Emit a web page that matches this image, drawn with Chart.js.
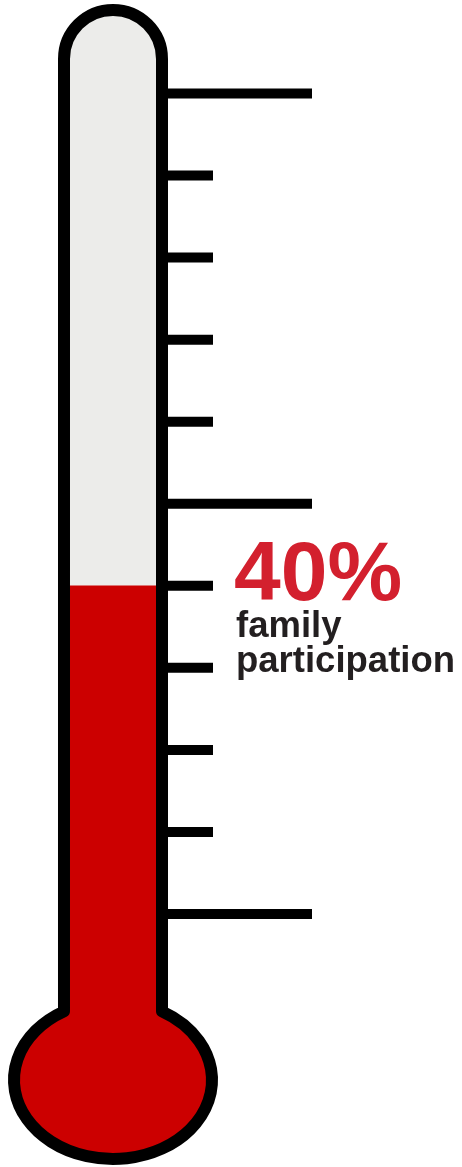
<!DOCTYPE html>
<html>
<head>
<meta charset="utf-8">
<style>
html,body{margin:0;padding:0;background:#fff;}
#wrap{width:462px;height:1167px;position:relative;}
</style>
<script src="https://cdn.jsdelivr.net/npm/chart.js@4.4.1/dist/chart.umd.min.js"></script>
</head>
<body>
<div id="wrap"><canvas id="c" width="462" height="1167"></canvas></div>
<script>
const categories = ["Family participation"];
const participation = [40];
const tickValues = [0, 10, 20, 30, 40, 50, 60, 70, 80, 90, 100];
const majorTicks = [0, 50, 100];
const captionLines = ["family", "participation"];

const RED = "#cc0000";
const TUBE = "#ececea";

function thermoPath(ctx, cx, topY, halfW, bulbCy, rx, ry) {
  const a = Math.acos(halfW / rx);
  ctx.beginPath();
  ctx.moveTo(cx - halfW, topY);
  ctx.ellipse(cx, bulbCy, rx, ry, 0, Math.PI + a, -a, true);
  ctx.lineTo(cx + halfW, topY);
  ctx.arc(cx, topY, halfW, 0, Math.PI, true);
  ctx.closePath();
}

const thermoPlugin = {
  id: "thermo",
  geom(chart) {
    const y = chart.scales.y;
    return {cx: 113, topY: 59, halfW: 49, bulbCy: 1080, rx: 99, ry: 79, y};
  },
  beforeDatasetsDraw(chart) {
    const ctx = chart.ctx;
    const g = this.geom(chart);
    ctx.save();
    thermoPath(ctx, g.cx, g.topY, g.halfW, g.bulbCy, g.rx, g.ry);
    ctx.fillStyle = TUBE;
    ctx.fill();
    ctx.clip();
    const y0 = g.y.getPixelForValue(0);
    ctx.fillStyle = RED;
    ctx.fillRect(0, y0 - 0.5, chart.width, chart.height);
    ctx.restore();
  },
  afterDatasetsDraw(chart) {
    const ctx = chart.ctx;
    const g = this.geom(chart);
    ctx.save();
    thermoPath(ctx, g.cx, g.topY, g.halfW, g.bulbCy, g.rx, g.ry);
    ctx.lineWidth = 12;
    ctx.strokeStyle = "#000";
    ctx.lineJoin = "round";
    ctx.stroke();
    ctx.lineWidth = 10;
    ctx.lineCap = "butt";
    tickValues.forEach(v => {
      const py = g.y.getPixelForValue(v);
      const x1 = majorTicks.includes(v) ? 312 : 213;
      ctx.beginPath();
      ctx.moveTo(160, py);
      ctx.lineTo(x1, py);
      ctx.stroke();
    });
    const v = participation[0];
    const vy = g.y.getPixelForValue(v);
    ctx.textBaseline = "alphabetic";
    ctx.textAlign = "left";
    ctx.fillStyle = "#d3202e";
    ctx.font = "bold 84px 'Liberation Sans', Arial, sans-serif";
    ctx.fillText(v + "%", 234, vy + 14);
    ctx.fillStyle = "#231f20";
    ctx.font = "bold 36.5px 'Liberation Sans', Arial, sans-serif";
    captionLines.forEach((t, i) => ctx.fillText(t, 236, vy + 51 + i * 35));
    ctx.restore();
  }
};

new Chart(document.getElementById("c"), {
  type: "bar",
  data: {
    labels: categories,
    datasets: [{
      data: participation,
      backgroundColor: RED,
      borderWidth: 0,
      barPercentage: 1,
      categoryPercentage: 1
    }]
  },
  options: {
    responsive: false,
    animation: false,
    layout: {padding: {top: 93.5, bottom: 253, left: 66, right: 300}},
    plugins: {legend: {display: false}, tooltip: {enabled: false}},
    scales: {
      x: {display: false},
      y: {display: false, min: 0, max: 100}
    }
  },
  plugins: [thermoPlugin]
});
</script>
</body>
</html>
